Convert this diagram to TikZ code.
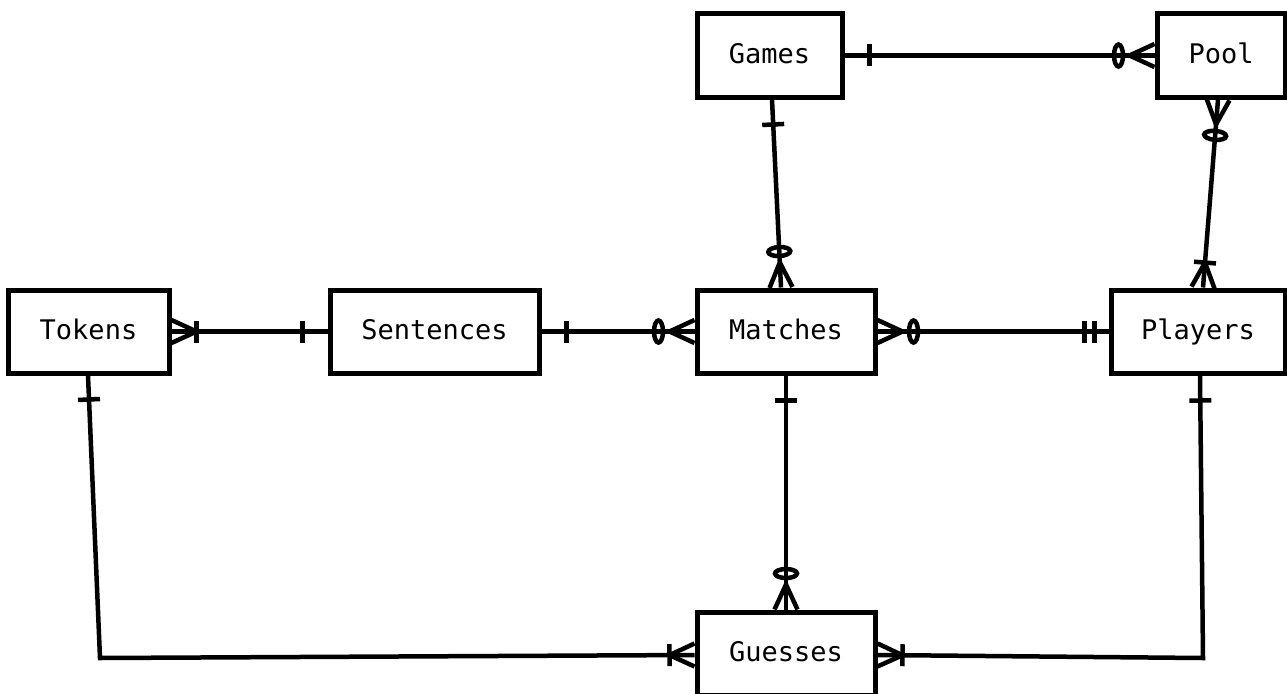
\documentclass[tikz,border=0pt]{standalone}
\usepackage{fontspec}
\setmonofont{DejaVu Sans Mono}
\usetikzlibrary{calc}

\tikzset{
  entity/.style={draw, line width=5pt, inner sep=0pt, minimum height=83pt,
                 text height=16pt, text depth=0pt,
                 font=\ttfamily\fontsize{27}{31}\selectfont},
  rel/.style={line width=4.5pt},
}

% Draw a relationship end marker at point #1, oriented towards point #2.
\newcommand\erend[3]{%
  \coordinate (erA) at (#1);\coordinate (erB) at (#2);%
  \pgfmathanglebetweenpoints{\pgfpointanchor{erA}{center}}{\pgfpointanchor{erB}{center}}%
  \let\erang\pgfmathresult
  \begin{scope}[shift={(erA)}, rotate=\erang, line width=4.5pt]#3\end{scope}}
% marker pieces, in local coordinates (x runs away from the entity)
\newcommand\erbar[1]{\draw (#1pt,-11pt) -- (#1pt,11pt);}
\newcommand\ercirc{\draw (36pt,0pt) ellipse [x radius=4.5pt, y radius=11pt];}
\newcommand\ercrow{\draw (0pt,-11.5pt) -- (25pt,0pt) -- (0pt,11.5pt);}

\begin{document}
\begin{tikzpicture}[x=1pt, y=-1pt]
\useasboundingbox (0,0) rectangle (1287,693);
\clip (0,0) rectangle (1287,693);

% entities
\node[entity, minimum width=145pt] (Games)     at (769.5,55.5)  {Games};
\node[entity, minimum width=128pt] (Pool)      at (1221,55.5)   {Pool};
\node[entity, minimum width=161pt] (Tokens)    at (88.5,331.5)  {Tokens};
\node[entity, minimum width=209pt] (Sentences) at (434.5,331.5) {Sentences};
\node[entity, minimum width=178pt] (Matches)   at (786,331.5)   {Matches};
\node[entity, minimum width=174pt] (Players)   at (1198,331.5)  {Players};
\node[entity, minimum width=178pt] (Guesses)   at (786,653.5)   {Guesses};

% connector end points
\coordinate (gm1) at ([xshift=2.5pt]Games.south);
\coordinate (gm2) at ([xshift=-5pt]Matches.north);
\coordinate (pp1) at ([xshift=-3pt]Pool.south);
\coordinate (pp2) at ([xshift=5pt]Players.north);
\coordinate (tg1) at ([xshift=-0.5pt]Tokens.south);
\coordinate (tgb) at (100,658);
\coordinate (tg2) at ([yshift=-1.5pt]Guesses.west);
\coordinate (yg1) at ([xshift=2pt]Players.south);
\coordinate (ygb) at (1203,658);
\coordinate (yg2) at ([yshift=-1.5pt]Guesses.east);

% relationships
\draw[rel] (Games.east) -- (Pool.west);
\erend{Games.east}{Pool.west}{\erbar{25}}
\erend{Pool.west}{Games.east}{\ercrow\ercirc}

\draw[rel] (gm1) -- (gm2);
\erend{gm1}{gm2}{\erbar{25}}
\erend{gm2}{gm1}{\ercrow\ercirc}

\draw[rel] (pp1) -- (pp2);
\erend{pp1}{pp2}{\ercrow\ercirc}
\erend{pp2}{pp1}{\ercrow\erbar{25}}

\draw[rel] (Tokens.east) -- (Sentences.west);
\erend{Tokens.east}{Sentences.west}{\ercrow\erbar{25}}
\erend{Sentences.west}{Tokens.east}{\erbar{25}}

\draw[rel] (Sentences.east) -- (Matches.west);
\erend{Sentences.east}{Matches.west}{\erbar{25}}
\erend{Matches.west}{Sentences.east}{\ercrow\ercirc}

\draw[rel] (Matches.east) -- (Players.west);
\erend{Matches.east}{Players.west}{\ercrow\ercirc}
\erend{Players.west}{Matches.east}{\erbar{14}\erbar{24}}

\draw[rel] (Matches.south) -- (Guesses.north);
\erend{Matches.south}{Guesses.north}{\erbar{25}}
\erend{Guesses.north}{Matches.south}{\ercrow\ercirc}

\draw[rel] (tg1) -- (tgb) -- (tg2);
\erend{tg1}{tgb}{\erbar{24}}
\erend{tg2}{tgb}{\ercrow\erbar{25}}

\draw[rel] (yg1) -- (ygb) -- (yg2);
\erend{yg1}{ygb}{\erbar{25}}
\erend{yg2}{ygb}{\ercrow\erbar{25}}
\end{tikzpicture}
\end{document}
